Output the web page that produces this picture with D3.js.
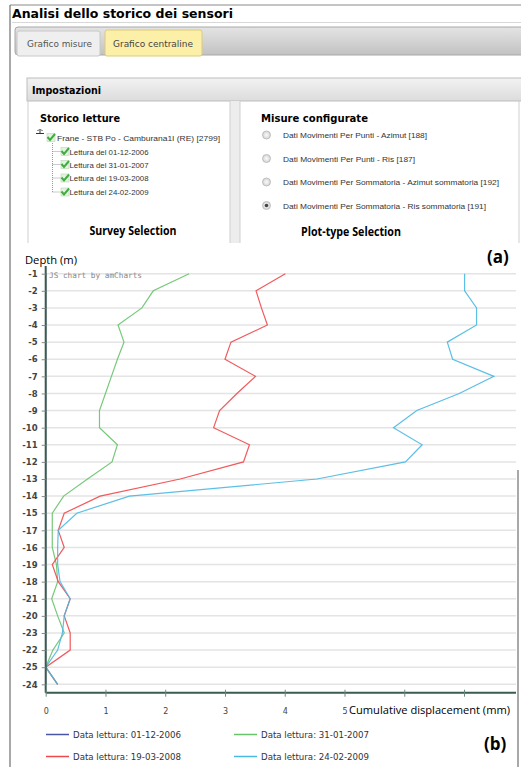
<!DOCTYPE html>
<html>
<head>
<meta charset="utf-8">
<script src="https://cdn.jsdelivr.net/npm/d3@7"></script>
<style>
  body { margin: 0; background: #fff; }
  text { font-family: "DejaVu Sans", Verdana, sans-serif; }
</style>
</head>
<body>
<div id="chart"></div>
<script>
// depth categories, in the order the category axis lists them
const depths = ["-1","-2","-3","-4","-5","-6","-7","-8","-9","-10","-11","-12","-13","-14",
  "-15","-17","-16","-19","-18","-21","-20","-23","-22","-25","-24"];

// cumulative displacement (mm) per reading
const read2006 = [0,0,0,0,0,0,0,0,0,0,0,0,0,0,0,0,0,0,0,0,0,0,0,0,0];
const read2007 = [2.4,1.8,1.61,1.21,1.31,1.2,1.1,1.0,0.9,0.9,1.2,1.11,0.7,0.3,
  0.11,0.11,0.11,0.18,0.2,0.1,0.2,0.31,0.12,0,0.2];
const read2008 = [4.01,3.52,3.61,3.71,3.1,3.0,3.51,3.2,2.91,2.81,3.41,3.31,2.25,0.91,
  0.31,0.21,0.31,0.11,0.21,0.41,0.31,0.41,0.41,0,0.2];
const read2009 = [7.01,7.01,7.21,7.21,6.72,6.81,7.5,6.92,6.21,5.82,6.3,6.02,4.54,1.4,
  0.52,0.21,0.2,0.2,0.24,0.41,0.31,0.28,0.2,0,0.2];

const seriesNames = ["Data lettura: 01-12-2006","Data lettura: 31-01-2007",
  "Data lettura: 19-03-2008","Data lettura: 24-02-2009"];
const seriesColors = ["#4b55a8","#68c36b","#f0484d","#4ab8e3"];
const xTicks = [0,1,2,3,4,5,6,7];

// settings panel texts
const tabs = ["Grafico misure","Grafico centraline"];
const surveys = ["Lettura del 01-12-2006","Lettura del 31-01-2007","Lettura del 19-03-2008","Lettura del 24-02-2009"];
const plotTypes = ["Dati Movimenti Per Punti - Azimut [188]","Dati Movimenti Per Punti - Ris [187]",
  "Dati Movimenti Per Sommatoria - Azimut sommatoria [192]","Dati Movimenti Per Sommatoria - Ris sommatoria [191]"];

const W = 521, H = 767;
const svg = d3.select("#chart").append("svg").attr("width", W).attr("height", H);

const defs = svg.append("defs");
const g1 = defs.append("linearGradient").attr("id","bar").attr("x1",0).attr("y1",0).attr("x2",0).attr("y2",1);
g1.append("stop").attr("offset","0%").attr("stop-color","#e4e4e4");
g1.append("stop").attr("offset","100%").attr("stop-color","#c2c2c2");
const g2 = defs.append("linearGradient").attr("id","head").attr("x1",0).attr("y1",0).attr("x2",0).attr("y2",1);
g2.append("stop").attr("offset","0%").attr("stop-color","#f2f2f2");
g2.append("stop").attr("offset","100%").attr("stop-color","#dcdcdc");
const g3 = defs.append("radialGradient").attr("id","radio");
g3.append("stop").attr("offset","0%").attr("stop-color","#fafafa");
g3.append("stop").attr("offset","100%").attr("stop-color","#d4d4d4");

// helper for ui text
function label(x, y, str, size, opts = {}) {
  const t = svg.append("text")
    .attr("x", x).attr("y", y)
    .attr("font-size", size)
    .attr("fill", opts.fill || "#000")
    .attr("font-weight", opts.bold ? "bold" : "normal")
    .attr("text-anchor", opts.anchor || "start")
    .text(str);
  if (opts.family) t.style("font-family", opts.family);
  if (opts.len) t.attr("textLength", opts.len).attr("lengthAdjust", "spacingAndGlyphs");
  return t;
}

// ---------- (a) settings screenshot ----------
svg.append("line").attr("x1",10).attr("x2",521).attr("y1",5).attr("y2",5).attr("stroke","#8a8a8a");
svg.append("line").attr("x1",10).attr("x2",10).attr("y1",5).attr("y2",H).attr("stroke","#6f6f6f").attr("stroke-width",1.2);
svg.append("line").attr("x1",518).attr("x2",518).attr("y1",470).attr("y2",H).attr("stroke","#6f6f6f").attr("stroke-width",1.2);

label(12, 18, "Analisi dello storico dei sensori", 13, {bold: true, len: 221});
svg.append("line").attr("x1",12).attr("x2",521).attr("y1",22.5).attr("y2",22.5).attr("stroke","#d8d8d8");

svg.append("rect").attr("x",15).attr("y",27).attr("width",520).attr("height",28).attr("rx",3)
  .attr("fill","url(#bar)").attr("stroke","#a8a8a8");
svg.append("rect").attr("x",17).attr("y",31).attr("width",83).attr("height",25).attr("rx",2)
  .attr("fill","#efefef").attr("stroke","#c8c8c8");
svg.append("rect").attr("x",105).attr("y",30).attr("width",97).attr("height",26).attr("rx",2)
  .attr("fill","#fcefa8").attr("stroke","#dccb7a");
label(27, 47, tabs[0], 9.5, {fill: "#555", len: 65});
label(113, 47, tabs[1], 9.5, {fill: "#444", len: 80});

svg.append("rect").attr("x",27).attr("y",78).attr("width",510).attr("height",23)
  .attr("fill","url(#head)").attr("stroke","#bdbdbd");
label(32, 94, "Impostazioni", 10.5, {bold: true, len: 69});

svg.append("rect").attr("x",230).attr("y",101).attr("width",10).attr("height",142).attr("fill","#ededed");
[28, 230, 240, 519].forEach(x => {
  svg.append("line").attr("x1",x).attr("x2",x).attr("y1",101).attr("y2",243).attr("stroke","#cfcfcf");
});

label(40, 122, "Storico letture", 10.5, {bold: true, len: 80});

// tree
svg.append("path").attr("d","M36 133.5 H44 M40 129 V133.5 M37.5 131 L39 129.5 M41 129.5 L42.5 131")
  .attr("stroke","#333").attr("stroke-width",1).attr("fill","none");
svg.append("path").attr("d","M52.5 143 V192 M52.5 151.5 H61 M52.5 164.5 H61 M52.5 178 H61 M52.5 192 H61")
  .attr("stroke","#999").attr("stroke-dasharray","1,1").attr("fill","none");
function checkbox(x, y) {
  svg.append("rect").attr("x",x).attr("y",y-4).attr("width",8).attr("height",8)
    .attr("fill","#e4f3e0").attr("stroke","#b8d8b0").attr("stroke-width",0.6);
  svg.append("path").attr("d",`M${x+0.5} ${y-0.5} L${x+3} ${y+2.5} L${x+8} ${y-3.5}`)
    .attr("stroke","#3fae3f").attr("stroke-width",2).attr("fill","none");
}
checkbox(47, 137.5);
label(57, 140.5, "Frane - STB Po - Camburana1I (RE) [2799]", 8, {fill: "#333", len: 163, family: "Liberation Sans"});
surveys.forEach((s, i) => {
  const yy = [151.5, 164.5, 178, 192][i];
  checkbox(61, yy);
  label(69.5, yy + 3, s, 8, {fill: "#333", len: 79, family: "Liberation Sans"});
});

label(133, 235, "Survey Selection", 11.5, {bold: true, anchor: "middle", len: 87, family: "Open Sans"});

label(261, 122, "Misure configurate", 10.5, {bold: true, len: 107});
const radioLens = [144, 132, 216, 203];
plotTypes.forEach((p, i) => {
  const yy = 135 + i * 23.5;
  svg.append("circle").attr("cx",266.5).attr("cy",yy).attr("r",4)
    .attr("fill","url(#radio)").attr("stroke","#b5b5b5").attr("stroke-width",0.8);
  if (i === 3) svg.append("circle").attr("cx",266.5).attr("cy",yy).attr("r",1.8).attr("fill","#444");
  label(283, yy + 3, p, 8, {fill: "#333", len: radioLens[i], family: "Liberation Sans"});
});

label(351, 236, "Plot-type Selection", 11.5, {bold: true, anchor: "middle", len: 100, family: "Open Sans"});
label(487, 263, "(a)", 17, {bold: true, family: "Open Sans"});

// ---------- (b) depth profile chart ----------
const x = d3.scaleLinear().domain([0, 7.87]).range([45.7, 516]);
const y = d3.scalePoint().domain(depths).range([273.7, 684.3]);
const axisColor = "#3b5b50";

// grid
svg.append("g").selectAll("line").data(depths).join("line")
  .attr("x1", x(0)).attr("x2", x.range()[1])
  .attr("y1", d => y(d)).attr("y2", d => y(d))
  .attr("stroke", "#e4e4e4").attr("stroke-width", 1.5);

label(49, 278, "JS chart by amCharts", 7.7, {fill: "#888", family: "DejaVu Sans Mono", len: 93});

// series
const allSeries = [read2006, read2007, read2008, read2009];
const line = d3.line().x(d => x(d.v)).y(d => y(d.depth));
allSeries.forEach((vals, i) => {
  const pts = depths.map((dep, k) => ({depth: dep, v: vals[k]}));
  svg.append("path").datum(pts)
    .attr("d", line)
    .attr("fill", "none")
    .attr("stroke", seriesColors[i])
    .attr("stroke-width", 1.2)
    .attr("stroke-opacity", 0.9);
});

// y axis
const yAxis = svg.append("g").attr("transform", `translate(${x(0)},0)`)
  .call(d3.axisLeft(y).tickSize(4).tickPadding(4));
yAxis.select(".domain").attr("stroke", axisColor).attr("stroke-width", 2)
  .attr("d", `M0,266V${692.7}`);
yAxis.selectAll(".tick line").attr("stroke", "#888");
yAxis.selectAll(".tick text").attr("fill", "#444").attr("font-size", 8.5)
  .attr("font-weight", "bold").style("font-family", "DejaVu Sans");

// x axis
const xAxis = svg.append("g").attr("transform", "translate(0,692.7)")
  .call(d3.axisBottom(x).tickValues(xTicks).tickSize(4).tickPadding(12)
    .tickFormat(d => d <= 5 ? d : ""));
xAxis.select(".domain").attr("stroke", axisColor).attr("stroke-width", 2)
  .attr("d", `M${x(0)},0H${x.range()[1]}`);
xAxis.selectAll(".tick line").attr("stroke", "#6a8a80").attr("y1", -3);
xAxis.selectAll(".tick text").attr("fill", "#444").attr("font-size", 8)
  .style("font-family", "DejaVu Sans");

label(25, 264, "Depth (m)", 11.5, {family: "Open Sans", len: 52});
label(349, 714, "Cumulative displacement (mm)", 11.5, {family: "Open Sans", len: 161});

// legend
const legend = svg.append("g").selectAll("g").data(seriesNames).join("g")
  .attr("transform", (d, i) => `translate(${i % 2 ? 234 : 46},${i < 2 ? 734.5 : 756.5})`);
legend.append("line").attr("x1", 0).attr("x2", 23).attr("y1", 0).attr("y2", 0)
  .attr("stroke", (d, i) => seriesColors[i]).attr("stroke-width", 1.5);
legend.append("text").attr("x", 27).attr("y", 3).attr("font-size", 8)
  .attr("fill", "#333").attr("textLength", 108).attr("lengthAdjust", "spacingAndGlyphs")
  .text(d => d);

label(484, 750, "(b)", 17, {bold: true, family: "Open Sans"});
</script>
</body>
</html>
